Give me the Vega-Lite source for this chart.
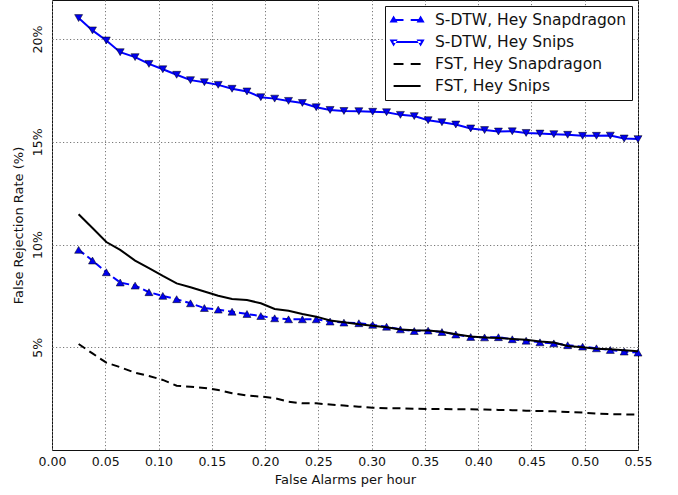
{
  "$schema": "https://vega.github.io/schema/vega-lite/v6.json",
  "width": 586,
  "height": 450,
  "autosize": {"type": "none"},
  "padding": {"left": 52, "top": 0, "right": 40, "bottom": 45},
  "background": "white",
  "config": {
    "view": {"stroke": "#111", "strokeWidth": 1},
    "font": "DejaVu Sans",
    "axis": {
      "domain": false,
      "ticks": false,
      "grid": true,
      "gridColor": "#777",
      "gridDash": [1.2, 2.3],
      "gridWidth": 1,
      "labelFont": "DejaVu Sans",
      "labelFontSize": 12.5,
      "labelColor": "#111",
      "titleFont": "DejaVu Sans",
      "titleFontSize": 13,
      "titleFontWeight": "normal",
      "titleColor": "#111"
    },
    "legend": {
      "orient": "top-right",
      "offset": 6,
      "padding": 5,
      "strokeColor": "#111",
      "strokeWidth": 1,
      "fillColor": "white",
      "cornerRadius": 0,
      "labelFont": "DejaVu Sans",
      "labelFontSize": 15.5,
      "labelColor": "#111",
      "labelOffset": 27,
      "symbolSize": 324,
      "symbolStrokeWidth": 0,
      "symbolOpacity": 1,
      "rowPadding": 4,
      "labelLimit": 400
    }
  },
  "datasets": {
    "sdtw_snap": [
      {"far": 0.025, "frr": 9.74}, {"far": 0.038, "frr": 9.22}, {"far": 0.051, "frr": 8.65}, {"far": 0.064, "frr": 8.15}, {"far": 0.078, "frr": 8.0}, {"far": 0.091, "frr": 7.68}, {"far": 0.104, "frr": 7.5}, {"far": 0.117, "frr": 7.34}, {"far": 0.13, "frr": 7.14}, {"far": 0.143, "frr": 6.91}, {"far": 0.156, "frr": 6.83}, {"far": 0.169, "frr": 6.73}, {"far": 0.183, "frr": 6.62}, {"far": 0.196, "frr": 6.52}, {"far": 0.209, "frr": 6.41}, {"far": 0.222, "frr": 6.36}, {"far": 0.235, "frr": 6.36}, {"far": 0.248, "frr": 6.36}, {"far": 0.261, "frr": 6.25}, {"far": 0.274, "frr": 6.2}, {"far": 0.288, "frr": 6.17}, {"far": 0.301, "frr": 6.09}, {"far": 0.314, "frr": 6.0}, {"far": 0.327, "frr": 5.87}, {"far": 0.34, "frr": 5.79}, {"far": 0.353, "frr": 5.81}, {"far": 0.366, "frr": 5.74}, {"far": 0.379, "frr": 5.62}, {"far": 0.393, "frr": 5.5}, {"far": 0.406, "frr": 5.48}, {"far": 0.419, "frr": 5.49}, {"far": 0.432, "frr": 5.39}, {"far": 0.445, "frr": 5.32}, {"far": 0.458, "frr": 5.24}, {"far": 0.471, "frr": 5.19}, {"far": 0.484, "frr": 5.1}, {"far": 0.498, "frr": 5.03}, {"far": 0.511, "frr": 4.95}, {"far": 0.524, "frr": 4.87}, {"far": 0.537, "frr": 4.79}, {"far": 0.55, "frr": 4.74}
    ],
    "sdtw_snips": [
      {"far": 0.025, "frr": 21.02}, {"far": 0.038, "frr": 20.42}, {"far": 0.051, "frr": 19.93}, {"far": 0.064, "frr": 19.36}, {"far": 0.078, "frr": 19.12}, {"far": 0.091, "frr": 18.79}, {"far": 0.104, "frr": 18.53}, {"far": 0.117, "frr": 18.26}, {"far": 0.13, "frr": 18.0}, {"far": 0.143, "frr": 17.9}, {"far": 0.156, "frr": 17.77}, {"far": 0.169, "frr": 17.58}, {"far": 0.183, "frr": 17.45}, {"far": 0.196, "frr": 17.17}, {"far": 0.209, "frr": 17.1}, {"far": 0.222, "frr": 16.99}, {"far": 0.235, "frr": 16.89}, {"far": 0.248, "frr": 16.68}, {"far": 0.261, "frr": 16.55}, {"far": 0.274, "frr": 16.5}, {"far": 0.288, "frr": 16.49}, {"far": 0.301, "frr": 16.46}, {"far": 0.314, "frr": 16.44}, {"far": 0.327, "frr": 16.31}, {"far": 0.34, "frr": 16.25}, {"far": 0.353, "frr": 16.05}, {"far": 0.366, "frr": 15.95}, {"far": 0.379, "frr": 15.84}, {"far": 0.393, "frr": 15.65}, {"far": 0.406, "frr": 15.57}, {"far": 0.419, "frr": 15.5}, {"far": 0.432, "frr": 15.51}, {"far": 0.445, "frr": 15.43}, {"far": 0.458, "frr": 15.4}, {"far": 0.471, "frr": 15.37}, {"far": 0.484, "frr": 15.34}, {"far": 0.498, "frr": 15.29}, {"far": 0.511, "frr": 15.29}, {"far": 0.524, "frr": 15.3}, {"far": 0.537, "frr": 15.16}, {"far": 0.55, "frr": 15.13}
    ],
    "fst_snap": [
      {"far": 0.025, "frr": 5.16}, {"far": 0.038, "frr": 4.7}, {"far": 0.051, "frr": 4.25}, {"far": 0.064, "frr": 4.03}, {"far": 0.078, "frr": 3.76}, {"far": 0.091, "frr": 3.6}, {"far": 0.104, "frr": 3.41}, {"far": 0.117, "frr": 3.13}, {"far": 0.13, "frr": 3.08}, {"far": 0.143, "frr": 3.02}, {"far": 0.156, "frr": 2.92}, {"far": 0.169, "frr": 2.76}, {"far": 0.183, "frr": 2.65}, {"far": 0.196, "frr": 2.6}, {"far": 0.209, "frr": 2.53}, {"far": 0.222, "frr": 2.35}, {"far": 0.235, "frr": 2.27}, {"far": 0.248, "frr": 2.27}, {"far": 0.261, "frr": 2.21}, {"far": 0.274, "frr": 2.16}, {"far": 0.288, "frr": 2.11}, {"far": 0.301, "frr": 2.06}, {"far": 0.314, "frr": 2.03}, {"far": 0.327, "frr": 2.03}, {"far": 0.34, "frr": 2.01}, {"far": 0.353, "frr": 2.0}, {"far": 0.366, "frr": 2.0}, {"far": 0.379, "frr": 1.98}, {"far": 0.393, "frr": 1.98}, {"far": 0.406, "frr": 1.97}, {"far": 0.419, "frr": 1.95}, {"far": 0.432, "frr": 1.94}, {"far": 0.445, "frr": 1.91}, {"far": 0.458, "frr": 1.9}, {"far": 0.471, "frr": 1.88}, {"far": 0.484, "frr": 1.85}, {"far": 0.498, "frr": 1.82}, {"far": 0.511, "frr": 1.77}, {"far": 0.524, "frr": 1.75}, {"far": 0.537, "frr": 1.73}, {"far": 0.55, "frr": 1.72}
    ],
    "fst_snips": [
      {"far": 0.025, "frr": 11.47}, {"far": 0.038, "frr": 10.8}, {"far": 0.051, "frr": 10.12}, {"far": 0.064, "frr": 9.74}, {"far": 0.078, "frr": 9.22}, {"far": 0.091, "frr": 8.85}, {"far": 0.104, "frr": 8.47}, {"far": 0.117, "frr": 8.11}, {"far": 0.13, "frr": 7.92}, {"far": 0.143, "frr": 7.71}, {"far": 0.156, "frr": 7.51}, {"far": 0.169, "frr": 7.35}, {"far": 0.183, "frr": 7.3}, {"far": 0.196, "frr": 7.14}, {"far": 0.209, "frr": 6.86}, {"far": 0.222, "frr": 6.78}, {"far": 0.235, "frr": 6.62}, {"far": 0.248, "frr": 6.49}, {"far": 0.261, "frr": 6.3}, {"far": 0.274, "frr": 6.22}, {"far": 0.288, "frr": 6.12}, {"far": 0.301, "frr": 6.05}, {"far": 0.314, "frr": 5.97}, {"far": 0.327, "frr": 5.87}, {"far": 0.34, "frr": 5.83}, {"far": 0.353, "frr": 5.81}, {"far": 0.366, "frr": 5.75}, {"far": 0.379, "frr": 5.63}, {"far": 0.393, "frr": 5.52}, {"far": 0.406, "frr": 5.48}, {"far": 0.419, "frr": 5.45}, {"far": 0.432, "frr": 5.4}, {"far": 0.445, "frr": 5.36}, {"far": 0.458, "frr": 5.28}, {"far": 0.471, "frr": 5.23}, {"far": 0.484, "frr": 5.06}, {"far": 0.498, "frr": 5.0}, {"far": 0.511, "frr": 4.93}, {"far": 0.524, "frr": 4.9}, {"far": 0.537, "frr": 4.85}, {"far": 0.55, "frr": 4.8}
    ],
    "legend_entries": [
      {"series": "S-DTW, Hey Snapdragon"},
      {"series": "S-DTW, Hey Snips"},
      {"series": "FST, Hey Snapdragon"},
      {"series": "FST, Hey Snips"}
    ]
  },
  "encoding": {
    "x": {
      "field": "far",
      "type": "quantitative",
      "title": "False Alarms per hour",
      "scale": {"domain": [0, 0.55], "nice": false, "zero": false},
      "axis": {
        "values": [0, 0.05, 0.1, 0.15, 0.2, 0.25, 0.3, 0.35, 0.4, 0.45, 0.5, 0.55],
        "format": ".2f",
        "labelPadding": 5,
        "titlePadding": 6,
        "labelFlush": false
      }
    },
    "y": {
      "field": "frr",
      "type": "quantitative",
      "title": "False Rejection Rate (%)",
      "scale": {"domain": [0, 21.9], "nice": false, "zero": false},
      "axis": {
        "values": [5, 10, 15, 20],
        "labelExpr": "datum.value + '%'",
        "labelAngle": -90,
        "labelAlign": "center",
        "labelBaseline": "bottom",
        "labelPadding": 8,
        "titlePadding": 6
      }
    }
  },
  "layer": [
    {
      "data": {"name": "sdtw_snap"},
      "mark": {"type": "line", "color": "#0000ff", "strokeWidth": 2, "strokeDash": [7, 4]}
    },
    {
      "data": {"name": "sdtw_snap"},
      "mark": {"type": "point", "shape": "triangle-up", "filled": true, "size": 64, "fill": "#0000ee", "stroke": "#000000", "strokeWidth": 0.5, "opacity": 1}
    },
    {
      "data": {"name": "sdtw_snips"},
      "mark": {"type": "line", "color": "#0000ff", "strokeWidth": 2}
    },
    {
      "data": {"name": "sdtw_snips"},
      "mark": {"type": "point", "shape": "triangle-down", "filled": true, "size": 64, "fill": "#0000ee", "stroke": "#000000", "strokeWidth": 0.5, "opacity": 1}
    },
    {
      "data": {"name": "fst_snap"},
      "mark": {"type": "line", "color": "#000000", "strokeWidth": 2, "strokeDash": [8, 5]}
    },
    {
      "data": {"name": "fst_snips"},
      "mark": {"type": "line", "color": "#000000", "strokeWidth": 2}
    },
    {
      "data": {"name": "legend_entries"},
      "mark": {"type": "point", "filled": true, "opacity": 1, "invalid": "filter"},
      "encoding": {
        "color": {
          "field": "series",
          "type": "nominal",
          "scale": {
            "domain": ["S-DTW, Hey Snapdragon", "S-DTW, Hey Snips", "FST, Hey Snapdragon", "FST, Hey Snips"],
            "range": ["#0000ff", "#0000ff", "#000000", "#000000"]
          },
          "legend": {"title": null}
        },
        "shape": {
          "field": "series",
          "type": "nominal",
          "scale": {
            "domain": ["S-DTW, Hey Snapdragon", "S-DTW, Hey Snips", "FST, Hey Snapdragon", "FST, Hey Snips"],
            "range": [
              "M-0.6,-0.11H0.5V0.11H-0.6Z M1.3,-0.11H2.4V0.11H1.3Z M-0.6,-0.5L-0.15,0.28L-1.05,0.28Z M2.4,-0.5L2.85,0.28L1.95,0.28Z",
              "M-0.6,-0.11H2.4V0.11H-0.6Z M-0.6,0.5L-0.15,-0.28L-1.05,-0.28Z M2.4,0.5L2.85,-0.28L1.95,-0.28Z",
              "M-0.6,-0.11H0.5V0.11H-0.6Z M1.3,-0.11H2.4V0.11H1.3Z",
              "M-0.6,-0.11H2.4V0.11H-0.6Z"
            ]
          },
          "legend": {"title": null}
        }
      }
    }
  ]
}
